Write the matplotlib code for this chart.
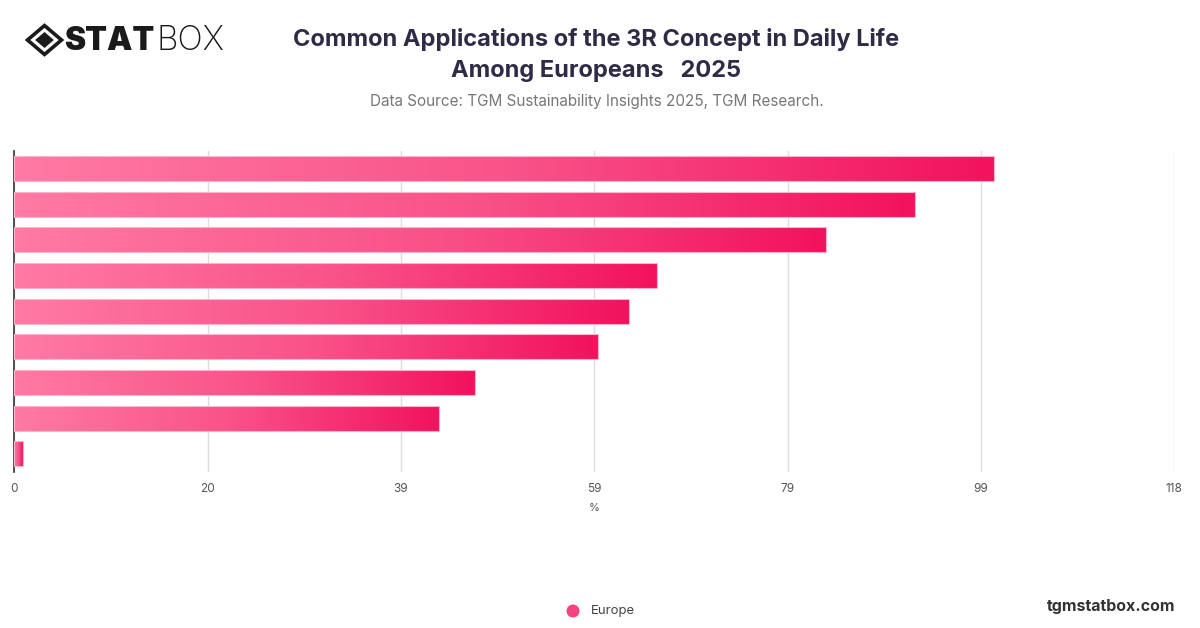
import matplotlib
matplotlib.use("Agg")
import matplotlib.pyplot as plt
from matplotlib.colors import LinearSegmentedColormap
from matplotlib.patches import Polygon, Circle
import numpy as np

# data (top bar first)
values = [99.9, 91.9, 82.8, 65.5, 62.7, 59.5, 47.0, 43.3, 0.84]
series_name = "Europe"
x_max = 118.3
tick_values = [x_max * i / 6 for i in range(7)]
tick_labels = ["0", "20", "39", "59", "79", "99", "118"]

plt.rcParams['font.family'] = ['Inter', 'DejaVu Sans']

fig = plt.figure(figsize=(12, 6.28), dpi=100)
ax = fig.add_axes([0.0119, 0.249, 0.9667, 0.511])

pink = LinearSegmentedColormap.from_list("pink", ["#ff7aa4", "#f9538a", "#f2125e"])
grad = np.linspace(0, 1, 256).reshape(1, -1)

n = len(values)
ypos = np.arange(n)
h = 0.7
for y, v in zip(ypos, values):
    ax.imshow(grad, cmap=pink, aspect='auto', extent=[0, v, y + h / 2, y - h / 2],
              interpolation='bicubic', zorder=2)
    ax.barh(y, v, height=h, facecolor='none', edgecolor='#ffb3cb', linewidth=0.8, zorder=3)

ax.set_xlim(0, x_max)
ax.set_ylim(n - 0.5, -0.5)
ax.set_xticks(tick_values)
ax.set_xticklabels(tick_labels)
ax.set_yticks([])
ax.grid(axis='x', color='#dddddd', linewidth=1, zorder=0)
ax.set_axisbelow(True)
for s in ['top', 'right', 'bottom']:
    ax.spines[s].set_visible(False)
ax.spines['left'].set_color('#333333')
ax.spines['left'].set_linewidth(1.2)
ax.tick_params(axis='x', length=0, pad=8, labelsize=8.5, labelcolor='#555555')
ax.set_xlabel('%', fontsize=8, color='#555555', labelpad=6)

# title and source
fig.text(0.497, 0.937, "Common Applications of the 3R Concept in Daily Life",
         ha='center', va='center', fontsize=17, fontweight='bold', color='#2d2b45')
fig.text(0.497, 0.887, "Among Europeans   2025",
         ha='center', va='center', fontsize=17, fontweight='bold', color='#2d2b45')
fig.text(0.497, 0.838, "Data Source: TGM Sustainability Insights 2025, TGM Research.",
         ha='center', va='center', fontsize=11, color='#777777')

# logo
cx, cy, r = 44.5, 40, 17
def px(x, y):
    return (x / 1200, 1 - y / 628)
outer = [px(cx - r, cy), px(cx, cy - r * 0.85), px(cx + r, cy), px(cx, cy + r * 0.85)]
fig.patches.append(Polygon(outer, closed=True, transform=fig.transFigure,
                           facecolor='none', edgecolor='#1a1a1a', linewidth=2.6))
inner = [px(cx - r * 0.55, cy), px(cx, cy - r * 0.47), px(cx + r * 0.55, cy), px(cx, cy + r * 0.47)]
fig.patches.append(Polygon(inner, closed=True, transform=fig.transFigure,
                           facecolor='#1a1a1a', edgecolor='none'))
fig.text(64 / 1200, 1 - 41 / 628, "STAT", ha='left', va='center', fontsize=23,
         fontweight='black', color='#1a1a1a')
fig.text(156 / 1200, 1 - 41 / 628, "BOX", ha='left', va='center', fontsize=24,
         fontweight='light', color='#1a1a1a')

# legend and footer
ly = 1 - 611 / 628
fig.patches.append(Circle((573, 628 - 611), 6.5, transform=None, facecolor='#f7427f',
                          edgecolor='none'))
fig.text(591 / 1200, ly, series_name, ha='left', va='center', fontsize=9.5, color='#444444')
fig.text(1175 / 1200, 1 - 606 / 628, "tgmstatbox.com", ha='right', va='center',
         fontsize=11.5, fontweight='bold', color='#333333')

fig.savefig("out.png", dpi=100)
